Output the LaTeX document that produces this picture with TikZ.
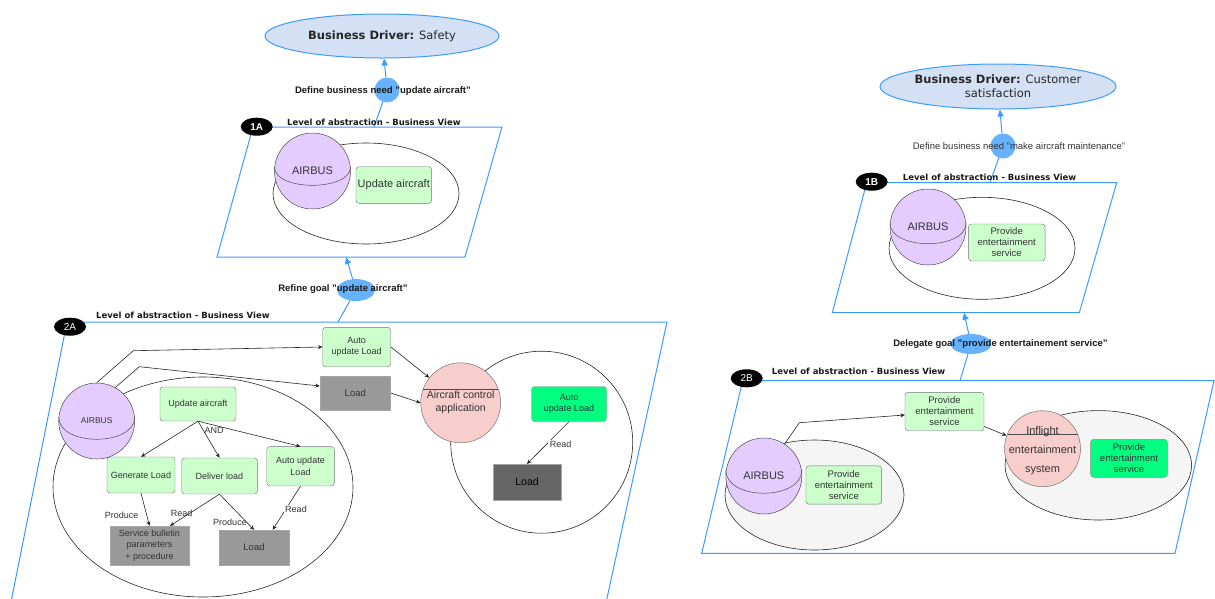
\documentclass[tikz,border=0pt]{standalone}
\usepackage{fontspec}
\setmainfont{Liberation Sans}
\newfontfamily\dv{DejaVu Sans}
\usetikzlibrary{arrows.meta,shapes.geometric,calc}
\newcommand\myfs[2]{\fontsize{#1}{#2}\selectfont}
\definecolor{bline}{HTML}{3D9BFF}
\definecolor{bfill}{HTML}{66B2FF}
\definecolor{dfill}{HTML}{D4E1F5}
\definecolor{gfill}{HTML}{CCFFCC}
\definecolor{sgreen}{HTML}{00FF80}
\definecolor{pfill}{HTML}{E5CCFF}
\definecolor{rfill}{HTML}{F8CECC}
\definecolor{txt}{HTML}{333333}
\definecolor{grey1}{HTML}{999999}
\definecolor{grey2}{HTML}{666666}
\definecolor{lgfill}{HTML}{F5F5F5}
\begin{document}
\begin{tikzpicture}[x=1pt,y=-1pt,
  bl/.style={draw=bline,line width=1pt},
  barr/.style={bl,-{Triangle[length=7pt,width=6pt]}},
  oarr/.style={draw=black!85,line width=0.6pt,-{Stealth[length=4.5pt,width=4pt]}},
  cont/.style={draw=black!85,line width=0.6pt},
  gbox/.style={draw=black!55,fill=gfill,rounded corners=3pt,align=center,text=txt,inner sep=1pt},
  sbox/.style={draw=black!45,fill=sgreen,rounded corners=3pt,align=center,text=txt,inner sep=1pt},
  gybox/.style={draw=black!35,fill=grey1,align=center,text=txt,inner sep=1pt},
  dkbox/.style={draw=black!35,fill=grey2,align=center,text=black,inner sep=1pt},
  sph/.style={circle,draw=black!70,fill=pfill,minimum size=76pt,inner sep=0pt,text=txt,line width=0.5pt},
  eqline/.style={draw=black!70,line width=0.5pt},
  app/.style={circle,draw=black!55,fill=rfill,inner sep=0pt,align=center,text=txt,line width=0.5pt},
  badge/.style={ellipse,fill=black,text=white,minimum width=32pt,minimum height=18pt,inner sep=0pt,font=\myfs{10}{12}},
  lev/.style={font=\dv\bfseries\myfs{8.5}{10},text=black!90,anchor=west,inner sep=0pt},
  glabel/.style={font=\bfseries\myfs{9.5}{11},text=black!90,inner sep=0pt},
  driver/.style={ellipse,draw=bline,fill=dfill,line width=1pt,inner sep=0pt,align=center,text=black!85,font=\dv\myfs{11.5}{14.4}},
  bdot/.style={circle,fill=bfill,draw=none,minimum size=25pt,inner sep=0pt},
  bov/.style={ellipse,fill=bfill,draw=none,inner sep=0pt},
  small/.style={font=\myfs{9}{11},text=txt,inner sep=1pt}
]
\useasboundingbox (0,0) rectangle (1215,598);
\clip (0,0) rectangle (1215,598);

% ================= LEFT: Safety =================
\node[driver,minimum width=234pt,minimum height=44pt] (bd1) at (382,36) {\textbf{Business Driver:} Safety};
\node[bdot] (c1) at (387,90) {};
\node[glabel] (l1) at (383,91) {Define business need "update aircraft"};
\coordinate (p1t) at (374,127);
\draw[barr] (c1) -- (bd1);
\draw[bl] (c1) -- (p1t);

% 1A plane
\draw[bl] (253,127) -- (502,127) -- (465,257) -- (217,257) -- cycle;
\node[badge,font=\bfseries\myfs{10}{12}] (b1a) at (256.7,126.7) {1A};
\node[lev] (lv1) at (287,122) {Level of abstraction - Business View};
\draw[cont] (366,193.5) ellipse [x radius=93, y radius=50.5];
\node[sph,font=\myfs{11}{13}] (ab1) at (312.5,171) {AIRBUS};
\draw[eqline] (274.5,167) .. controls (274.5,191.4) and (350.5,191.4) .. (350.5,167);
\node[gbox,minimum width=75.7pt,minimum height=36.6pt,font=\myfs{11}{13}] (ua1) at (393.8,185) {Update aircraft};

% refine
\node[bov,minimum width=38pt,minimum height=22pt] (c2) at (356,290) {};
\node[glabel] (l2) at (343,289) {Refine goal "update aircraft"};
\coordinate (p1b) at (346,257);
\coordinate (p2t) at (338,322);
\draw[barr] (c2) -- (p1b);
\draw[bl] (c2) -- (p2t);

% 2A plane
\draw[bl] (67,322) -- (667,322) -- (604,612) -- (9,612) -- cycle;
\node[badge] (b2a) at (70,326.7) {2A};
\node[lev] (lv2) at (96,315) {Level of abstraction - Business View};

\draw[cont] (203,487) ellipse [x radius=150, y radius=110];
\draw[cont] (541.7,442.2) circle [radius=91];

\node[sph,font=\myfs{8.5}{10}] (ab2) at (96.7,421) {AIRBUS};
\draw[eqline] (58.7,417) .. controls (58.7,446.7) and (134.7,446.7) .. (134.7,417);

\node[gbox,minimum width=76pt,minimum height=34pt,font=\myfs{9}{11}] (ua2) at (198,404) {Update aircraft};
\node[gbox,minimum width=68pt,minimum height=36pt,font=\myfs{9}{11}] (gl) at (141,475) {Generate Load};
\node[gbox,minimum width=75.6pt,minimum height=36pt,font=\myfs{9}{11}] (dl) at (219.5,476) {Deliver load};
\node[gbox,minimum width=67.6pt,minimum height=39.3pt,font=\myfs{9}{11.3}] (aul) at (300.5,466.3) {Auto update\\Load};
\node[gybox,minimum width=79pt,minimum height=39pt,font=\myfs{9}{11.3}] (sb) at (149.5,545.5) {Service bulletin\\parameters\\+ procedure};
\node[gybox,minimum width=69.7pt,minimum height=35pt,font=\myfs{9.5}{11}] (ld1) at (254,547.5) {Load};

\draw[oarr] (ua2.south) -- (gl.north);
\draw[oarr] (ua2.south) -- (dl.north);
\draw[oarr] (ua2.south) -- (aul.north);
\node[small] (andl) at (214,430.5) {AND};
\draw[oarr] (gl.south) -- (sb.north);
\node[small] (pr1) at (121.7,515) {Produce};
\draw[oarr] (dl.south) -- ($(sb.north)+(20.5,0)$);
\node[small] (rd1) at (181.7,513.3) {Read};
\draw[oarr] (dl.south) -- (ld1.north);
\node[small] (pr2) at (230,522.3) {Produce};
\draw[oarr] (aul.south) -- ($(ld1.north)+(18.7,0)$);
\node[small,fill=white,inner sep=1pt] (rd2) at (296,509.3) {Read};

% top boxes in 2A
\node[gbox,minimum width=68pt,minimum height=39.4pt,font=\myfs{9}{11.6}] (aul2) at (356.7,347) {Auto\\update Load};
\node[gybox,minimum width=70.7pt,minimum height=34pt,font=\myfs{9.5}{11}] (ld2) at (355.3,393) {Load};
\node[app,minimum size=80pt] (aca) at (460.7,402.8) {};
\draw[eqline] (423,389.3) -- (498.4,389.3);
\node[font=\myfs{10.5}{13.3},text=txt,align=center] (acat) at (460.7,402.5) {Aircraft control\\application};

\coordinate (k1) at (133.3,350.7);
\coordinate (k2) at (139.3,366.7);
\draw[oarr] (ab2.north) -- (k1) -- (aul2.west);
\draw[oarr] (ab2.61) -- (k2) -- ($(ld2.west)+(0,-7)$);
\draw[oarr] (aul2.east) -- (aca);
\draw[oarr] (ld2.east) -- (aca.west);

\node[sbox,minimum width=75pt,minimum height=35pt,font=\myfs{9}{11.5}] (aul3) at (569,404) {Auto\\update Load};
\node[dkbox,minimum width=67.7pt,minimum height=35.7pt,font=\myfs{10.5}{12}] (ld3) at (527,482) {Load};
\draw[oarr] (aul3.south) -- (ld3.north);
\node[small,fill=white,inner sep=1.5pt] (rd3) at (560.7,444.3) {Read};

% ================= RIGHT: Customer satisfaction =================
\node[driver,minimum width=234pt,minimum height=45pt] (bd2) at (998,86.5) {\textbf{Business Driver:} Customer\\satisfaction};
\node[bdot] (c3) at (1003,146) {};
\node[font=\myfs{9.5}{11},text=txt,inner sep=0pt] (l3) at (1019,146.5) {Define business need "make aircraft maintenance"};
\coordinate (p3t) at (990,182.7);
\draw[barr] (c3) -- (bd2);
\draw[bl] (c3) -- (p3t);

% 1B plane
\draw[bl] (866.7,182.7) -- (1116.7,182.7) -- (1079.3,312.7) -- (832.3,312.7) -- cycle;
\node[badge,font=\bfseries\myfs{10}{12}] (b1b) at (871.7,181.7) {1B};
\node[lev] (lv3) at (902.7,177.3) {Level of abstraction - Business View};
\draw[cont] (982,248.3) ellipse [x radius=93, y radius=51];
\node[sph,font=\myfs{11}{13}] (ab3) at (928,227) {AIRBUS};
\draw[eqline] (890,223) .. controls (890,250.6) and (966,250.6) .. (966,223);
\node[gbox,minimum width=76.7pt,minimum height=37pt,font=\myfs{9.5}{11}] (pes1) at (1006.7,242.5) {Provide\\entertainment\\service};

% delegate
\node[bov,minimum width=41pt,minimum height=20pt] (c4) at (971,344) {};
\node[glabel] (l4) at (1000.5,344) {Delegate goal "provide entertainement service"};
\coordinate (p3b) at (964,312.7);
\coordinate (p4t) at (960,380.7);
\draw[barr] (c4) -- (p3b);
\draw[bl] (c4) -- (p4t);

% 2B plane
\draw[bl] (742.7,380.7) -- (1214,380.7) -- (1175,553.3) -- (701.7,553.3) -- cycle;
\node[badge] (b2b) at (746.7,378.3) {2B};
\node[lev] (lv4) at (771.7,371.7) {Level of abstraction - Business View};

\draw[cont,fill=lgfill] (814.5,495) ellipse [x radius=89.5, y radius=55];
\draw[cont,fill=lgfill] (1098.3,465.3) ellipse [x radius=93.3, y radius=54.7];

\node[sph,font=\myfs{11}{13}] (ab4) at (763.8,476) {AIRBUS};
\draw[eqline] (725.8,470) .. controls (725.8,501) and (801.8,501) .. (801.8,470);
\node[gbox,minimum width=75.7pt,minimum height=38.3pt,font=\myfs{9.5}{11}] (pes2) at (843.8,485) {Provide\\entertainment\\service};
\node[gbox,minimum width=79pt,minimum height=38.4pt,font=\myfs{9.5}{11}] (pes3) at (944.5,411.5) {Provide\\entertainment\\service};
\node[app,minimum size=76pt] (ifs) at (1042.5,448.7) {};
\draw[eqline] (1007.5,434) -- (1077.5,434);
\node[font=\myfs{11}{19.2},text=txt,align=center] (ifst) at (1042.5,450.7) {Inflight\\entertainment\\system};
\node[sbox,minimum width=76.7pt,minimum height=38pt,font=\myfs{9.5}{11}] (pes4) at (1129,458.3) {Provide\\entertainment\\service};

\coordinate (k3) at (799.3,422.7);
\draw[oarr] (ab4.57) -- (k3) -- ($(pes3.west)+(0,3.5)$);
\draw[oarr] ($(pes3.east)+(0,15)$) -- (ifs.160);
\end{tikzpicture}
\end{document}
